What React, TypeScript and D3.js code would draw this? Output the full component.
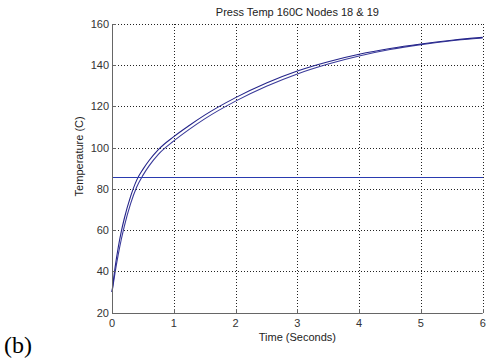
import React from "react";
import * as d3 from "d3";

// Time samples (seconds) and node temperatures (°C)
const times = [0, 0.05, 0.1, 0.15, 0.2, 0.3, 0.4, 0.5, 0.6, 0.75, 1, 1.25, 1.5, 2, 2.5, 3, 3.5, 4, 4.5, 5, 5.5, 6];
const node18 = [30, 42, 51.5, 59.3, 65.8, 76.3, 84.3, 89.5, 93.8, 99.1, 105.4, 110.8, 115.8, 124.3, 131.4, 137.2, 141.7, 145.3, 148.1, 150.3, 152.1, 153.5];
const node19 = [30, 39.5, 48, 55.5, 62, 72.8, 81, 86.6, 91.2, 96.8, 103.3, 108.9, 114, 122.6, 129.8, 135.8, 140.6, 144.5, 147.6, 150, 151.9, 153.2];
const threshold = 86;

const xTicks = [0, 1, 2, 3, 4, 5, 6];
const yTicks = [20, 40, 60, 80, 100, 120, 140, 160];

const titleText = "Press Temp 160C Nodes 18 & 19";
const xLabel = "Time (Seconds)";
const yLabel = "Temperature (C)";
const panelLabel = "(b)";

const W = 490;
const H = 360;
const left = 112;
const right = 482.7;
const top = 24;
const bottom = 312.7;

export default function App() {
  const x = d3.scaleLinear().domain([0, 6]).range([left, right]);
  const y = d3.scaleLinear().domain([20, 160]).range([bottom, top]);

  const line = d3
    .line<number>()
    .x((_, i) => x(times[i]))
    .y((d) => y(d))
    .curve(d3.curveMonotoneX);

  const font = "Arial, 'Liberation Sans', sans-serif";
  const gridStyle = { stroke: "#222", strokeWidth: 1, strokeDasharray: "1,2", shapeRendering: "crispEdges" as const };

  return (
    <svg
      width={W}
      height={H}
      style={{ position: "absolute", left: 0, top: 0, background: "#fff" }}
    >
      {/* dotted grid */}
      {xTicks.slice(1).map((t) => (
        <line key={"gx" + t} x1={Math.round(x(t)) + 0.5} x2={Math.round(x(t)) + 0.5} y1={top} y2={bottom} style={gridStyle} />
      ))}
      {yTicks.slice(1).map((t) => (
        <line key={"gy" + t} x1={left} x2={right} y1={Math.round(y(t)) + 0.5} y2={Math.round(y(t)) + 0.5} style={gridStyle} />
      ))}

      {/* series */}
      <path d={line(node19) ?? ""} fill="none" stroke="#3a3a9a" strokeWidth={1.1} />
      <path d={line(node18) ?? ""} fill="none" stroke="#24248a" strokeWidth={1.1} />
      <line x1={x(0)} x2={x(6)} y1={Math.round(y(threshold)) + 0.5} y2={Math.round(y(threshold)) + 0.5} stroke="#2a3bb0" strokeWidth={1} shapeRendering="crispEdges" />

      {/* axes */}
      <line x1={left + 0.5} x2={left + 0.5} y1={top} y2={bottom + 0.5} stroke="#666" strokeWidth={1} />
      <line x1={left} x2={right} y1={Math.round(bottom) + 0.5} y2={Math.round(bottom) + 0.5} stroke="#666" strokeWidth={1} />
      {xTicks.map((t) => (
        <g key={"tx" + t}>
          <line x1={Math.round(x(t)) + 0.5} x2={Math.round(x(t)) + 0.5} y1={Math.round(bottom)} y2={Math.round(bottom) - 4} stroke="#666" />
          <text x={x(t)} y={bottom + 14} textAnchor="middle" fontFamily={font} fontSize={11} fill="#333">
            {t}
          </text>
        </g>
      ))}
      {yTicks.map((t) => (
        <g key={"ty" + t}>
          <line x1={left} x2={left + 4} y1={Math.round(y(t)) + 0.5} y2={Math.round(y(t)) + 0.5} stroke="#666" />
          <text x={left - 3} y={y(t) + 4} textAnchor="end" fontFamily={font} fontSize={11} fill="#333">
            {t}
          </text>
        </g>
      ))}

      {/* labels */}
      <text x={(left + right) / 2} y={16} textAnchor="middle" fontFamily={font} fontSize={11} fill="#222">
        {titleText}
      </text>
      <text x={(left + right) / 2} y={341} textAnchor="middle" fontFamily={font} fontSize={11} fill="#222">
        {xLabel}
      </text>
      <text
        transform={`translate(83, ${(top + bottom) / 2 - 12}) rotate(-90)`}
        textAnchor="middle"
        fontFamily={font}
        fontSize={11}
        fill="#222"
      >
        {yLabel}
      </text>
      <text x={4} y={353} fontFamily="'Liberation Serif', 'DejaVu Serif', serif" fontSize={24} fill="#000">
        {panelLabel}
      </text>
    </svg>
  );
}
